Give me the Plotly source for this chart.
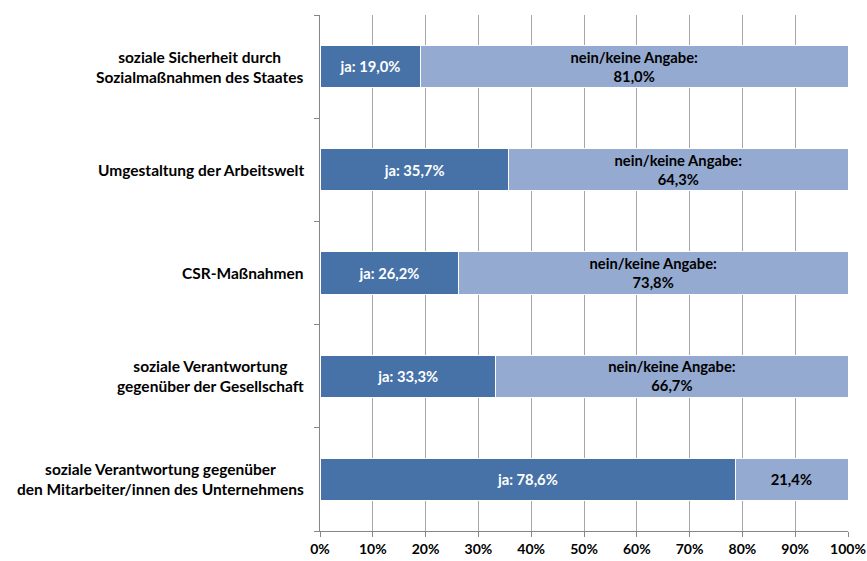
import plotly.graph_objects as go

categories = [
    "soziale Sicherheit durch<br>Sozialmaßnahmen des Staates",
    "Umgestaltung der Arbeitswelt",
    "CSR-Maßnahmen",
    "soziale Verantwortung<br>gegenüber der Gesellschaft",
    "soziale Verantwortung gegenüber<br>den Mitarbeiter/innen des Unternehmens",
]
ja = [19.0, 35.7, 26.2, 33.3, 78.6]
nein = [81.0, 64.3, 73.8, 66.7, 21.4]
x_ticks = [0, 10, 20, 30, 40, 50, 60, 70, 80, 90, 100]
x_ticktext = [f"{v}%" for v in x_ticks]

def fmt(v):
    return f"{v:.1f}".replace(".", ",") + "%"

ja_text = ["ja: " + fmt(v) for v in ja]
nein_text = [("nein/keine Angabe:<br>" + fmt(v)) if v > 40 else fmt(v) for v in nein]

FONT = "Lato"
FS = 15.5
FS_BAR = 15.5
FS_TICK = 14
fig = go.Figure()
fig.add_trace(go.Bar(
    y=categories, x=ja, orientation="h", name="ja",
    marker=dict(color="#4672A8", line=dict(color="#FFFFFF", width=1)),
    text=ja_text, textposition="inside", insidetextanchor="middle",
    textfont=dict(color="white", family=FONT, size=FS_BAR, weight="bold"),
    hoverinfo="skip",
))
fig.add_trace(go.Bar(
    y=categories, x=nein, orientation="h", name="nein",
    marker=dict(color="#94AAD0", line=dict(color="#FFFFFF", width=1)),
    text=nein_text, textposition="inside", insidetextanchor="middle",
    textfont=dict(color="black", family=FONT, size=FS_BAR, weight="bold"),
    hoverinfo="skip",
))

for c in categories:
    fig.add_annotation(
        x=0, xref="paper", xanchor="right", xshift=-14,
        y=c, yref="y", text=c, showarrow=False, align="center",
        font=dict(family=FONT, size=FS, color="black", weight="bold"),
    )

fig.update_layout(
    barmode="stack",
    bargap=0.59,
    showlegend=False,
    width=867, height=561,
    margin=dict(l=320, r=19, t=15, b=30, autoexpand=False),
    plot_bgcolor="white", paper_bgcolor="white",
    uniformtext=dict(minsize=8, mode="show"),
    hovermode=False,
)
fig.update_xaxes(
    range=[0, 100], tickvals=x_ticks, ticktext=x_ticktext,
    showgrid=True, gridcolor="#A6A6A6", gridwidth=1,
    showline=True, linecolor="#868686", ticks="outside", ticklen=5, tickcolor="#868686",
    tickfont=dict(family=FONT, size=FS_TICK, color="black", weight="bold"),
    zeroline=False, fixedrange=True, automargin=False,
)
fig.update_yaxes(
    categoryorder="array", categoryarray=categories[::-1],
    showticklabels=False, tickson="boundaries", ticks="outside", ticklen=5,
    tickcolor="#868686", showline=True, linecolor="#868686", showgrid=False,
    fixedrange=True, automargin=False,
)

fig.write_html(
    "out.html",
    config={"displayModeBar": False, "staticPlot": True},
    post_script="document.body.style.margin='0';document.body.style.overflow='hidden';",
)
